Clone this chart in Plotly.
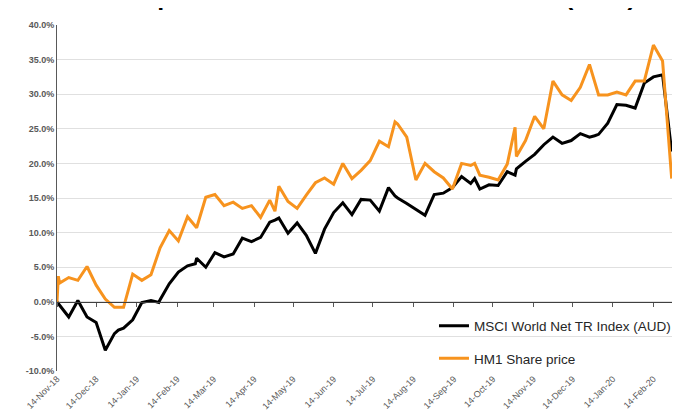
import plotly.graph_objects as go

dates = [
    "2018-11-14", "2018-11-15", "2018-11-16", "2018-11-23", "2018-11-30",
    "2018-12-07", "2018-12-14", "2018-12-21", "2018-12-28", "2018-12-31",
    "2019-01-04", "2019-01-11", "2019-01-18", "2019-01-25", "2019-01-31",
    "2019-02-01", "2019-02-08", "2019-02-15", "2019-02-22", "2019-02-28",
    "2019-03-01", "2019-03-08", "2019-03-15", "2019-03-22", "2019-03-29",
    "2019-04-05", "2019-04-12", "2019-04-19", "2019-04-26", "2019-04-30",
    "2019-05-03", "2019-05-10", "2019-05-17", "2019-05-24", "2019-05-31",
    "2019-06-07", "2019-06-14", "2019-06-21", "2019-06-28", "2019-07-05",
    "2019-07-12", "2019-07-19", "2019-07-26", "2019-07-31", "2019-08-02",
    "2019-08-09", "2019-08-16", "2019-08-23", "2019-08-30", "2019-09-06",
    "2019-09-13", "2019-09-20", "2019-09-27", "2019-09-30", "2019-10-04",
    "2019-10-11", "2019-10-18", "2019-10-25", "2019-10-31", "2019-11-01",
    "2019-11-08", "2019-11-15", "2019-11-22", "2019-11-29", "2019-12-06",
    "2019-12-13", "2019-12-20", "2019-12-27", "2019-12-31", "2020-01-03",
    "2020-01-10", "2020-01-17", "2020-01-24", "2020-01-31", "2020-02-07",
    "2020-02-14", "2020-02-21", "2020-02-28",
]

msci = [
    0.0, -0.2, -0.5, -2.2, 0.2,
    -2.2, -3.0, -7.0, -4.6, -4.1,
    -3.8, -2.6, -0.1, 0.2, -0.1,
    0.3, 2.6, 4.3, 5.2, 5.5,
    6.3, 5.0, 7.1, 6.5, 6.9,
    9.2, 8.7, 9.3, 11.5, 11.8,
    12.1, 9.9, 11.4, 9.6, 7.0,
    10.5, 12.9, 14.3, 12.6, 14.8,
    14.7, 13.1, 16.5, 15.3, 15.0,
    14.2, 13.3, 12.5, 15.5, 15.7,
    16.5, 18.1, 17.1, 17.8, 16.3,
    16.9, 16.8, 18.8, 18.3, 19.2,
    20.3, 21.3, 22.7, 23.8, 22.9,
    23.3, 24.3, 23.8, 24.0, 24.2,
    25.8, 28.5, 28.4, 28.0, 31.6,
    32.5, 32.8, 21.7,
]

hm1 = [
    0.0, 3.7, 2.7, 3.5, 3.1,
    5.1, 2.4, 0.4, -0.8, -0.8,
    -0.8, 4.0, 3.1, 3.9, 7.4,
    7.8, 10.3, 8.8, 12.3, 11.0,
    10.7, 15.1, 15.5, 13.9, 14.4,
    13.5, 13.9, 12.2, 14.7, 13.1,
    16.7, 14.5, 13.5, 15.4, 17.2,
    17.9, 17.0, 20.0, 17.8, 19.0,
    20.4, 23.2, 22.4, 26.0, 25.7,
    23.8, 17.6, 20.0, 18.8, 17.9,
    16.3, 20.0, 19.7, 20.0, 18.3,
    18.0, 17.6, 19.9, 25.2, 21.0,
    23.3, 26.8, 25.0, 31.9, 29.9,
    29.1, 31.0, 34.3, 31.8, 29.9,
    29.9, 30.3, 29.9, 31.9, 31.9,
    37.1, 34.8, 17.8,
]

tick_dates = [
    "2018-11-14", "2018-12-14", "2019-01-14", "2019-02-14", "2019-03-14",
    "2019-04-14", "2019-05-14", "2019-06-14", "2019-07-14", "2019-08-14",
    "2019-09-14", "2019-10-14", "2019-11-14", "2019-12-14", "2020-01-14",
    "2020-02-14",
]
y_ticks = [-10, -5, 0, 5, 10, 15, 20, 25, 30, 35, 40]

title_text = "HM1 Share price vs MSCI World Net TR Index (AUD)"
name_msci = "MSCI World Net TR Index (AUD)"
name_hm1 = "HM1 Share price"

x_range = ["2018-11-14", "2020-02-29"]

fig = go.Figure()
fig.add_trace(go.Scatter(
    x=dates, y=msci, mode="lines", name=name_msci,
    line=dict(color="#000000", width=3), legendgroup="a",
))
fig.add_trace(go.Scatter(
    x=dates, y=hm1, mode="lines", name=name_hm1,
    line=dict(color="#F7931E", width=3), legendgroup="b",
))
# helper trace so the zero-line axis is drawn
fig.add_trace(go.Scatter(
    x=[dates[0]], y=[None], xaxis="x2", showlegend=False,
    hoverinfo="skip", mode="lines",
))

fig.update_layout(
    width=680, height=416,
    margin=dict(l=49, r=13, t=14, b=43),
    plot_bgcolor="white", paper_bgcolor="white",
    font=dict(family="Liberation Sans", color="#595959"),
    xaxis=dict(
        type="date", range=x_range,
        tickvals=tick_dates, tickformat="%d-%b-%y",
        tickangle=-45, tickfont=dict(size=9, color="#595959"),
        showgrid=False, showline=False, ticks="", zeroline=False,
    ),
    xaxis2=dict(
        type="date", range=x_range, overlaying="x", anchor="free",
        position=0.2, side="bottom",
        tickvals=tick_dates, showticklabels=False,
        ticks="outside", ticklen=4, tickcolor="#595959", tickwidth=1,
        showline=True, linecolor="#404040", linewidth=1,
        showgrid=False, zeroline=False,
    ),
    yaxis=dict(
        range=[-10, 40], tickvals=y_ticks,
        ticktext=[f"{v:.1f}%" for v in y_ticks],
        tickfont=dict(size=9, color="#595959", weight="bold"),
        showgrid=True, gridcolor="#E0E0E0", gridwidth=1,
        showline=True, linecolor="#595959", linewidth=1,
        zeroline=False, ticks="",
    ),
    legend=dict(
        x=0.612, y=0.175, xanchor="left", yanchor="top",
        bgcolor="rgba(0,0,0,0)", font=dict(size=13.5, color="#262626"),
        tracegroupgap=12, traceorder="grouped",
    ),
    showlegend=True,
)

fig.add_annotation(
    text=title_text, xref="paper", yref="paper", x=0.943, y=1,
    xanchor="right", yanchor="bottom", yshift=13, showarrow=False,
    font=dict(size=25, color="#000000", family="Liberation Sans", weight="bold"),
)

fig.write_html("out.html")
